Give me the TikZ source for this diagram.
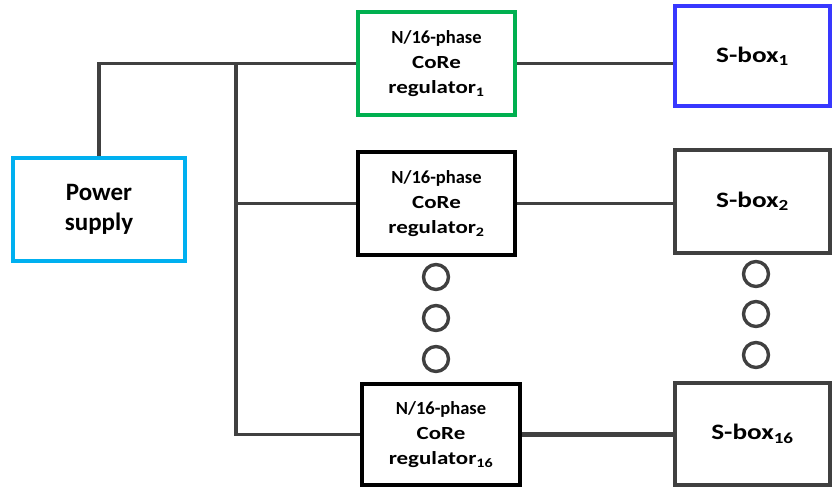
\documentclass[tikz,border=0pt]{standalone}
\usepackage{fontspec}
\setmainfont{Carlito}
\newfontfamily\widefont[FakeStretch=1.24]{Carlito}
\usepackage{xcolor}
\usetikzlibrary{positioning, arrows.meta}

\definecolor{wiregray}{HTML}{404040}
\definecolor{psblue}{HTML}{00B0F0}
\definecolor{regreen}{HTML}{00B050}
\definecolor{boxblue}{HTML}{3838FF}

% regulator label: narrow first line, wide second and third lines
\newcommand{\reglabel}[1]{N/16-phase\\
	{\widefont CoRe}\\
	{\widefont regulator\textsubscript{#1}}}

\begin{document}
\begin{tikzpicture}[x=1pt, y=-1pt, font=\bfseries,
		blk/.style={draw, line width=3.6pt, fill=white, align=center, inner sep=0pt},
		reg/.style={blk, draw=black, minimum width=157pt, minimum height=103pt,
			font=\bfseries\fontsize{18.5}{25}\selectfont},
		sbox/.style={blk, draw=wiregray, minimum width=155pt, minimum height=102pt,
			font=\bfseries\widefont\fontsize{22}{26}\selectfont},
		wire/.style={draw=wiregray, line width=3.6pt},
		dot/.style={circle, draw=wiregray, line width=3.4pt, minimum size=25pt, inner sep=0pt}]
		\useasboundingbox (0,0) rectangle (833,493);

		% Draw the supply
		\node (ps) at (99,209.5) [blk, draw=psblue, minimum width=172pt, minimum height=103pt,
			font=\bfseries\fontsize{25}{29.5}\selectfont] {Power\\supply};

		% Draw the regulators
		\node (reg1) at (436.5,63.5) [reg, draw=regreen] {\reglabel{1}};
		\node (reg2) at (436.5,203.5) [reg] {\reglabel{2}};
		\node (reg16) at (441,434.5) [reg, minimum width=158pt, minimum height=101pt] {\reglabel{16}};

		% Draw the S-boxes
		\node (sb1) at (752.5,56) [sbox, draw=boxblue, minimum height=100pt] {S-box\textsubscript{1}};
		\node (sb2) at (752.5,201.5) [sbox, minimum height=103pt] {S-box\textsubscript{2}};
		\node (sb16) at (752.5,434) [sbox, minimum height=102pt] {S-box\textsubscript{16}};

		% Dots between the rows
		\node (d1) at (436,277) [dot] {};
		\node (d2) at (436,318) [dot] {};
		\node (d3) at (436,359) [dot] {};
		\node (e1) at (756,274) [dot] {};
		\node (e2) at (756,314) [dot] {};
		\node (e3) at (756,355) [dot] {};

		% Wiring
		\coordinate (btop) at (236,63.5);
		\draw[wire] (ps.north) |- (reg1.west);
		\draw[wire] (btop) |- (reg16.west);
		\draw[wire] (btop |- reg2.west) -- (reg2.west);
		\draw[wire] (reg1.east) -- (sb1.west |- reg1.east);
		\draw[wire] (reg2.east) -- (sb2.west |- reg2.east);
		\draw[wire, line width=5.5pt] (reg16.east) -- (sb16.west |- reg16.east);
	\end{tikzpicture}
\end{document}
